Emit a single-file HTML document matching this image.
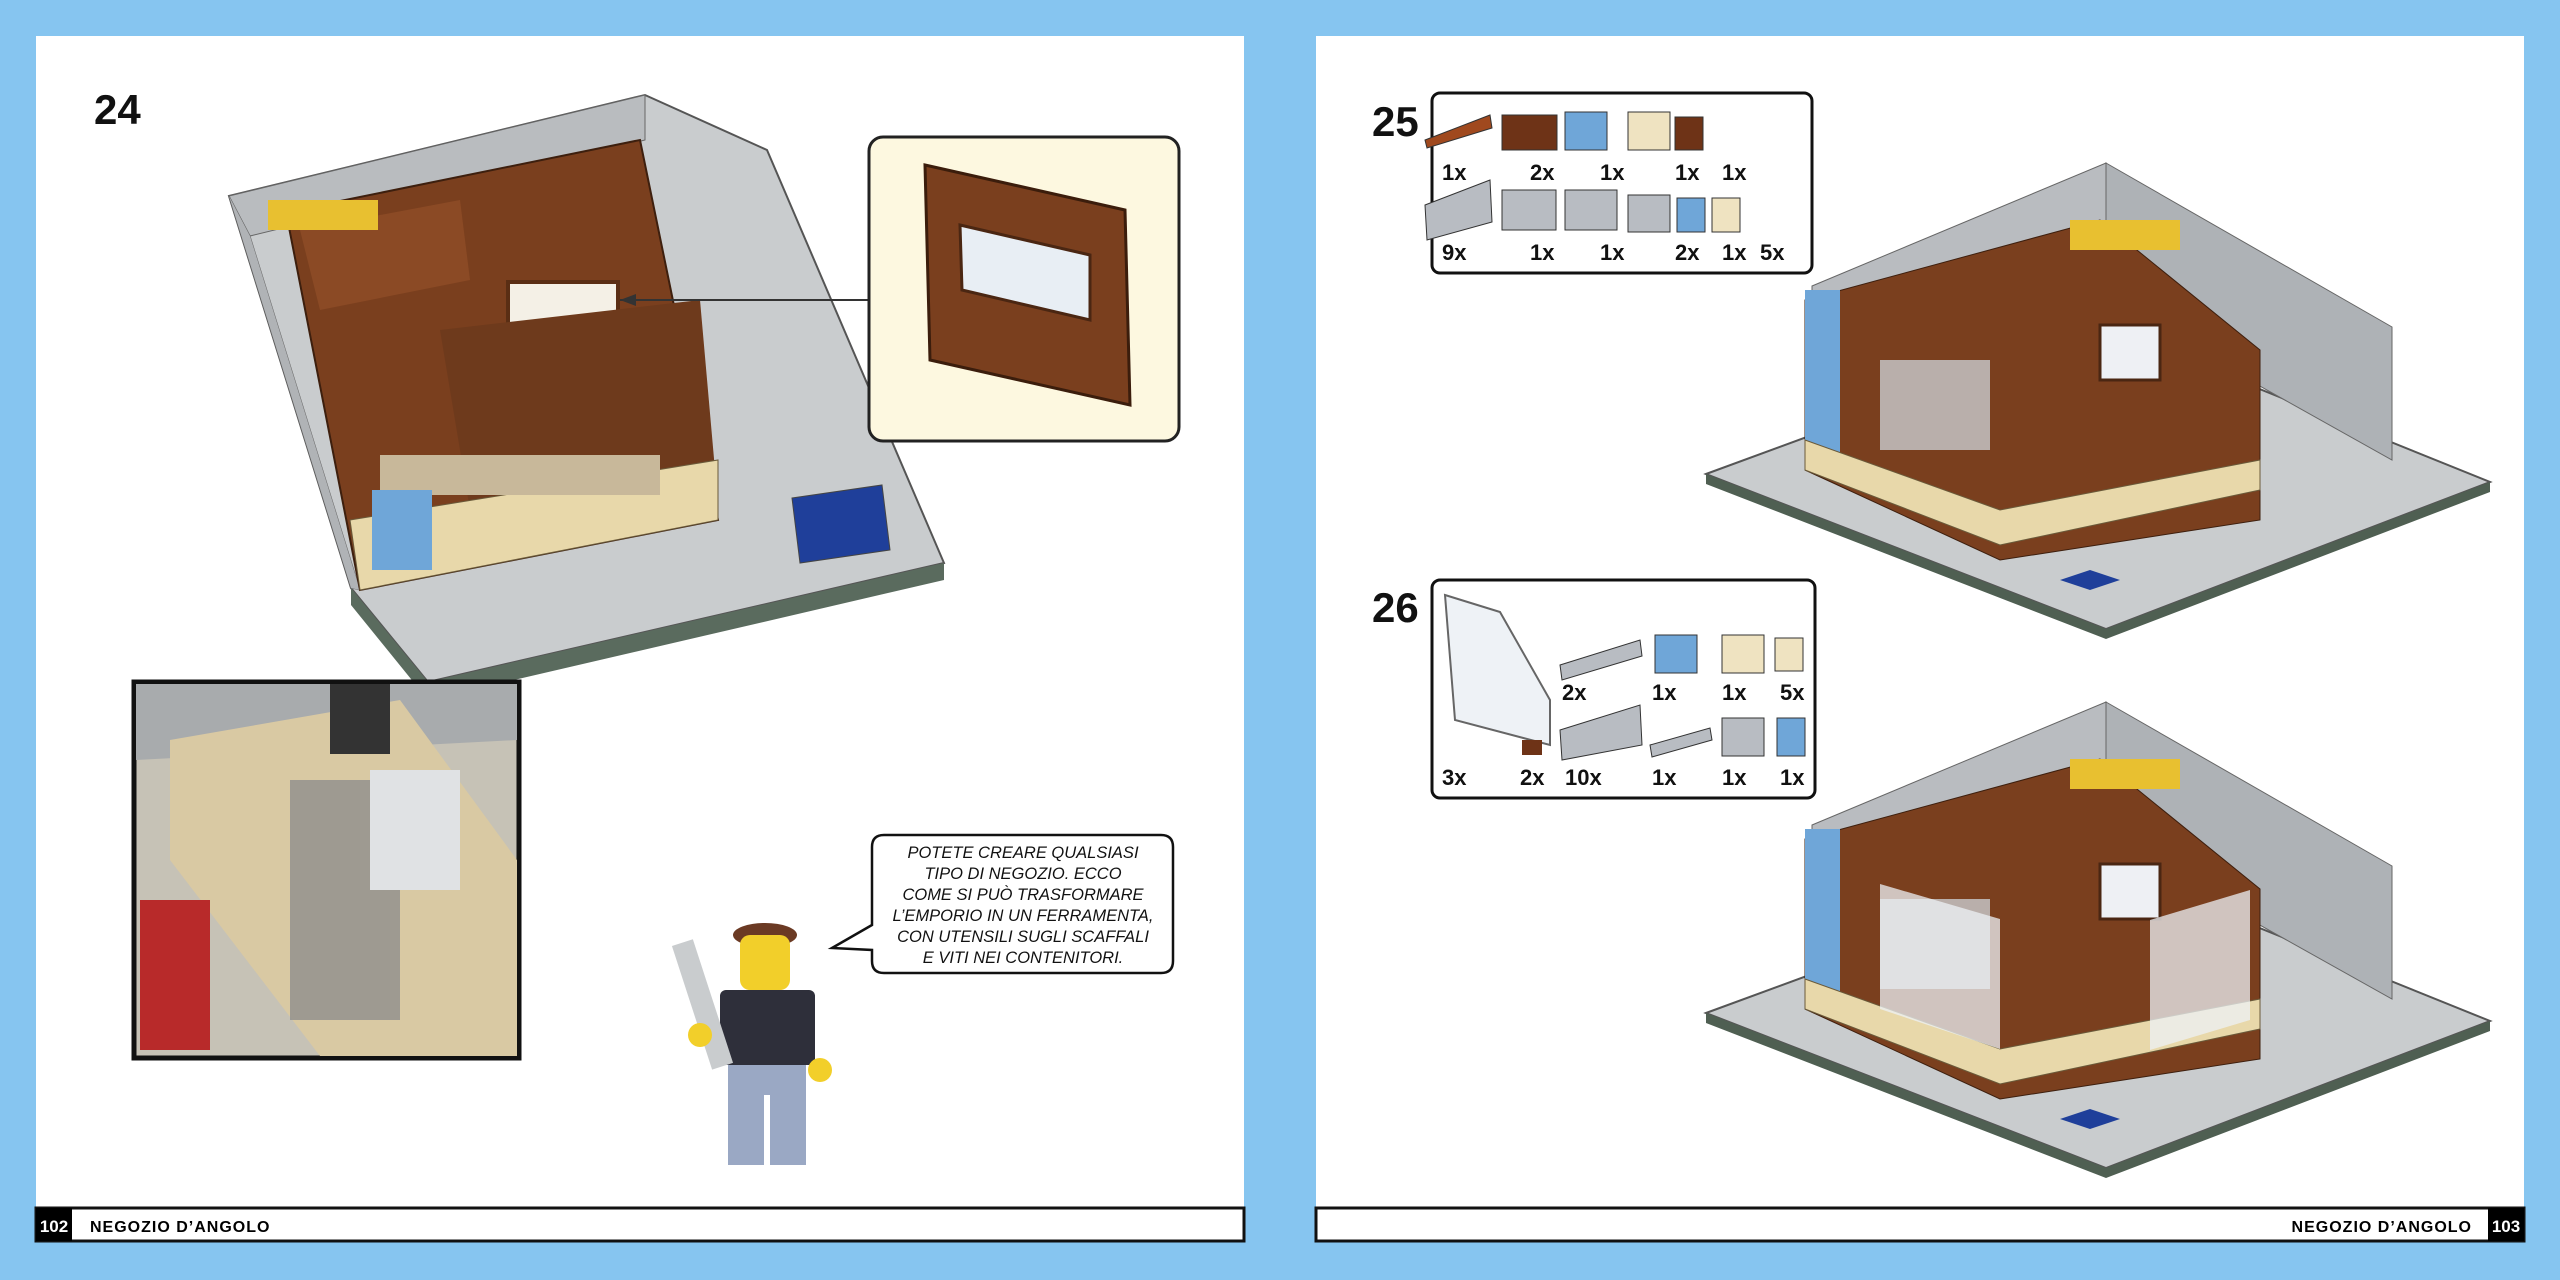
<!DOCTYPE html>
<html><head><meta charset="utf-8"><style>
html,body{margin:0;padding:0;background:#86c5f0;}
svg{display:block}
text{font-family:"Liberation Sans",sans-serif;}
</style></head><body>
<svg width="2560" height="1280" viewBox="0 0 2560 1280" xmlns="http://www.w3.org/2000/svg">
<rect width="2560" height="1280" fill="#86c5f0"/>
<!-- pages -->
<rect x="36" y="36" width="1208" height="1205" fill="#ffffff"/>
<rect x="1316" y="36" width="1208" height="1205" fill="#ffffff"/>
<!-- footers -->
<rect x="36" y="1208" width="1208" height="33" fill="#fff" stroke="#111" stroke-width="3"/>
<rect x="36" y="1208" width="36" height="33" fill="#000"/>
<text x="54" y="1232" fill="#fff" font-size="17" font-weight="bold" text-anchor="middle">102</text>
<text x="90" y="1232" fill="#000" font-size="16" font-weight="bold" letter-spacing="1">NEGOZIO D’ANGOLO</text>
<rect x="1316" y="1208" width="1208" height="33" fill="#fff" stroke="#111" stroke-width="3"/>
<rect x="2488" y="1208" width="36" height="33" fill="#000"/>
<text x="2506" y="1232" fill="#fff" font-size="17" font-weight="bold" text-anchor="middle">103</text>
<text x="2472" y="1232" fill="#000" font-size="16" font-weight="bold" letter-spacing="1" text-anchor="end">NEGOZIO D’ANGOLO</text>

<!-- step numbers -->
<text x="94" y="124" font-size="42" font-weight="bold" fill="#111">24</text>
<text x="1372" y="136" font-size="42" font-weight="bold" fill="#111">25</text>
<text x="1372" y="622" font-size="42" font-weight="bold" fill="#111">26</text>

<!-- LEFT MODEL (24) -->
<polygon points="229,196 645,95 767,150 944,563 428,682 351,588" fill="#c9ccce" stroke="#555" stroke-width="2"/>
<polygon points="351,588 428,682 944,563 944,580 428,700 351,605" fill="#5a6b5e"/>
<polygon points="229,196 645,95 645,140 250,236" fill="#b9bcbf" stroke="#666"/>
<polygon points="229,196 250,236 360,590 351,588" fill="#a9acaf" stroke="#666"/>
<polygon points="229,196 351,588 360,590 250,236" fill="#b0b3b6"/>
<polygon points="286,212 640,140 718,520 360,590" fill="#7a3f1e" stroke="#3d1f0e" stroke-width="2"/>
<polygon points="300,230 460,200 470,280 320,310" fill="#8b4a25"/>
<rect x="508" y="282" width="110" height="60" fill="#f4f0e6" stroke="#5a2e14" stroke-width="4"/>
<polygon points="440,330 700,300 715,470 470,510" fill="#6e3a1c"/>
<polygon points="350,520 718,460 718,520 360,590" fill="#e8d8aa" stroke="#6a5a3a"/>
<rect x="268" y="200" width="110" height="30" fill="#e8c030"/>
<rect x="380" y="455" width="280" height="40" fill="#c8b89a"/>
<polygon points="792,498 882,485 890,550 800,563" fill="#1f3f9a" stroke="#444"/>
<rect x="372" y="490" width="60" height="80" fill="#6fa6d8"/>
<line x1="620" y1="300" x2="880" y2="300" stroke="#333" stroke-width="2"/>
<polygon points="620,300 636,294 636,306" fill="#333"/>

<!-- callout inset -->
<rect x="869" y="137" width="310" height="304" rx="14" fill="#fdf8e0" stroke="#222" stroke-width="3"/>
<polygon points="925,165 1125,210 1130,405 930,360" fill="#7a3f1e" stroke="#3b1d0c" stroke-width="3"/>
<polygon points="960,225 1090,255 1090,320 962,290" fill="#e8eef4" stroke="#4a2612" stroke-width="3"/>

<!-- detail photo -->
<rect x="134" y="682" width="385" height="376" fill="#c6c2b6" stroke="#111" stroke-width="5"/>
<polygon points="136,684 517,684 517,740 136,760" fill="#a8abad"/>
<polygon points="170,740 400,700 517,860 517,1056 320,1056 170,860" fill="#d9c9a3"/>
<rect x="140" y="900" width="70" height="150" fill="#b82a2a"/>
<rect x="290" y="780" width="110" height="240" fill="#8e8f8c" opacity="0.8"/>
<rect x="370" y="770" width="90" height="120" fill="#e0e2e4"/>
<rect x="330" y="684" width="60" height="70" fill="#333"/>

<!-- speech bubble -->
<path d="M884,835 H1161 Q1173,835 1173,847 V961 Q1173,973 1161,973 H884 Q872,973 872,961 V950 L832,948 L872,925 V847 Q872,835 884,835 Z" fill="#fff" stroke="#111" stroke-width="2.5"/>
<g font-size="16.5" text-anchor="middle" fill="#111" font-family="Liberation Sans" font-style="italic">
<text x="1023" y="858">POTETE CREARE QUALSIASI</text>
<text x="1023" y="879">TIPO DI NEGOZIO. ECCO</text>
<text x="1023" y="900">COME SI PUÒ TRASFORMARE</text>
<text x="1023" y="921">L’EMPORIO IN UN FERRAMENTA,</text>
<text x="1023" y="942">CON UTENSILI SUGLI SCAFFALI</text>
<text x="1023" y="963">E VITI NEI CONTENITORI.</text>
</g>

<!-- minifig -->
<ellipse cx="765" cy="935" rx="32" ry="12" fill="#6b3a24"/>
<rect x="740" y="935" width="50" height="55" rx="10" fill="#f2cf2a"/>
<rect x="720" y="990" width="95" height="75" rx="6" fill="#2e2f3a"/>
<rect x="728" y="1065" width="78" height="30" fill="#9aa8c4"/>
<rect x="728" y="1095" width="36" height="70" fill="#9aa8c4"/>
<rect x="770" y="1095" width="36" height="70" fill="#9aa8c4"/>
<rect x="690" y="940" width="22" height="130" fill="#c9ccce" transform="rotate(-18 700 1000)"/>
<circle cx="700" cy="1035" r="12" fill="#f2cf2a"/>
<circle cx="820" cy="1070" r="12" fill="#f2cf2a"/>

<!-- parts box 25 -->
<rect x="1432" y="93" width="380" height="180" rx="8" fill="#fff" stroke="#111" stroke-width="3"/>
<g font-size="22" font-weight="bold" fill="#111">
<text x="1442" y="180">1x</text><text x="1530" y="180">2x</text><text x="1600" y="180">1x</text><text x="1675" y="180">1x</text><text x="1722" y="180">1x</text>
<text x="1442" y="260">9x</text><text x="1530" y="260">1x</text><text x="1600" y="260">1x</text><text x="1675" y="260">2x</text><text x="1722" y="260">1x</text><text x="1760" y="260">5x</text>
</g>
<polygon points="1425,140 1490,115 1492,128 1427,148" fill="#a0491e" stroke="#333"/>
<rect x="1502" y="115" width="55" height="35" fill="#6e3317" stroke="#333"/>
<rect x="1565" y="112" width="42" height="38" fill="#6fa6d8" stroke="#333"/>
<rect x="1628" y="112" width="42" height="38" fill="#efe3c1" stroke="#333"/>
<rect x="1675" y="117" width="28" height="33" fill="#6e3317" stroke="#333"/>
<polygon points="1425,205 1490,180 1492,222 1427,240" fill="#b8bcc2" stroke="#333"/>
<rect x="1502" y="190" width="54" height="40" fill="#b8bcc2" stroke="#333"/>
<rect x="1565" y="190" width="52" height="40" fill="#b8bcc2" stroke="#333"/>
<rect x="1628" y="195" width="42" height="37" fill="#b8bcc2" stroke="#333"/>
<rect x="1677" y="198" width="28" height="34" fill="#6fa6d8" stroke="#333"/>
<rect x="1712" y="198" width="28" height="34" fill="#efe3c1" stroke="#333"/>

<!-- parts box 26 -->
<rect x="1432" y="580" width="383" height="218" rx="8" fill="#fff" stroke="#111" stroke-width="3"/>
<g font-size="22" font-weight="bold" fill="#111">
<text x="1442" y="785">3x</text><text x="1520" y="785">2x</text><text x="1565" y="785">10x</text><text x="1652" y="785">1x</text><text x="1722" y="785">1x</text><text x="1780" y="785">1x</text>
<text x="1562" y="700">2x</text><text x="1652" y="700">1x</text><text x="1722" y="700">1x</text><text x="1780" y="700">5x</text>
</g>
<polygon points="1445,595 1500,612 1550,700 1550,745 1455,720" fill="#eef2f6" stroke="#666" stroke-width="2"/>
<polygon points="1560,665 1640,640 1642,656 1562,680" fill="#b8bcc2" stroke="#333"/>
<rect x="1655" y="635" width="42" height="38" fill="#6fa6d8" stroke="#333"/>
<rect x="1722" y="635" width="42" height="38" fill="#efe3c1" stroke="#333"/>
<rect x="1775" y="638" width="28" height="33" fill="#efe3c1" stroke="#333"/>
<rect x="1522" y="740" width="20" height="15" fill="#6e3317"/>
<polygon points="1560,730 1640,705 1642,745 1562,760" fill="#b8bcc2" stroke="#333"/>
<polygon points="1650,745 1710,728 1712,740 1652,757" fill="#b8bcc2" stroke="#333"/>
<rect x="1722" y="718" width="42" height="38" fill="#b8bcc2" stroke="#333"/>
<rect x="1777" y="718" width="28" height="38" fill="#6fa6d8" stroke="#333"/>

<!-- RIGHT MODELS -->
<g id="m">
<polygon points="1706,474 2106,327 2490,482 2106,629" fill="#c9ccce" stroke="#555" stroke-width="2"/>
<polygon points="1706,474 2106,629 2490,482 2490,492 2106,639 1706,484" fill="#4f5f52"/>
<polygon points="1812,286 2106,163 2106,300 1812,420" fill="#b9bcc0" stroke="#666"/>
<polygon points="2106,163 2392,327 2392,460 2106,300" fill="#aeb2b6" stroke="#666"/>
<polygon points="1805,300 2100,220 2260,350 2260,520 2000,560 1805,470" fill="#7a3f1e" stroke="#3d1f0e"/>
<rect x="1805" y="290" width="35" height="170" fill="#6fa6d8"/>
<rect x="2100" y="325" width="60" height="55" fill="#eef0f4" stroke="#4a2612" stroke-width="3"/>
<polygon points="1805,440 2000,510 2260,460 2260,490 2000,545 1805,470" fill="#e8d8aa" stroke="#6a5a3a"/>
<rect x="2070" y="220" width="110" height="30" fill="#e8c030"/>
<rect x="1880" y="360" width="110" height="90" fill="#c9ccce" opacity="0.8"/>
<polygon points="2060,580 2090,570 2120,580 2090,590" fill="#1f3f9a"/>
</g>
<use href="#m" transform="translate(0,539)"/>
<polygon points="1880,345 2000,380 2000,510 1880,470" fill="#eef2f6" opacity="0.75" transform="translate(0,539)"/>
<polygon points="2150,920 2250,890 2250,1020 2150,1050" fill="#eef2f6" opacity="0.75"/>
</svg>
</body></html>
